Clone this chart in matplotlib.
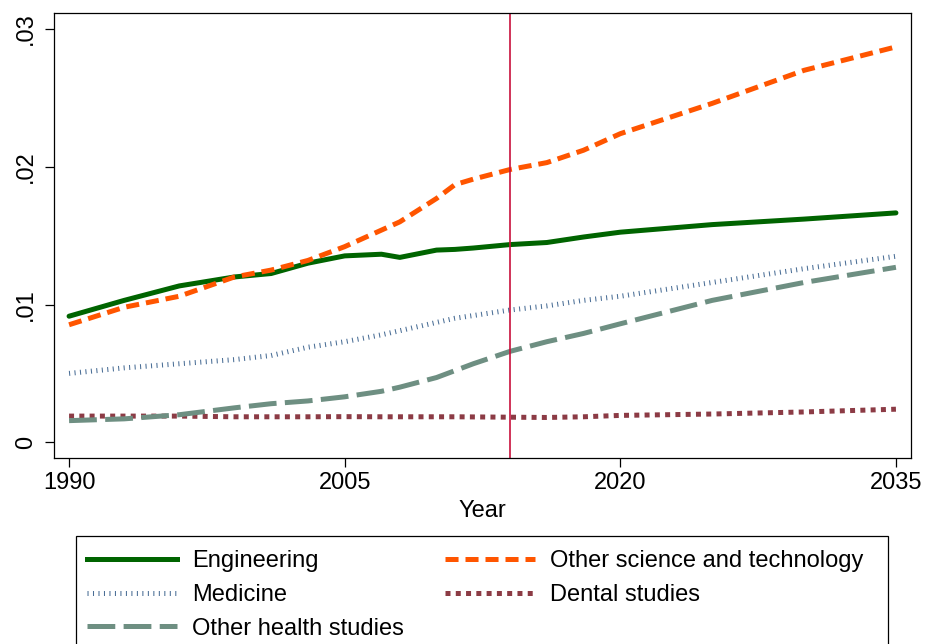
import matplotlib
matplotlib.use("Agg")
import matplotlib.pyplot as plt
from matplotlib.lines import Line2D
from matplotlib.patches import Rectangle

plt.rcParams['font.family'] = ['Liberation Sans', 'DejaVu Sans']
plt.rcParams['lines.scale_dashes'] = False

years = [1990, 1993, 1996, 1999, 2001, 2003, 2005, 2007, 2008, 2010, 2011,
         2012, 2014, 2016, 2018, 2020, 2025, 2030, 2035]

engineering = [0.00915, 0.0103, 0.01135, 0.0120, 0.01225, 0.0130, 0.01353,
               0.01365, 0.01342, 0.01395, 0.01400, 0.0141, 0.01435, 0.0145,
               0.0149, 0.01525, 0.0158, 0.0162, 0.01665]
other_sci_tech = [0.00853, 0.0098, 0.0106, 0.0120, 0.0125, 0.0132, 0.0142,
                  0.0154, 0.0160, 0.0177, 0.0187, 0.0191, 0.0198, 0.0203,
                  0.0212, 0.0224, 0.0246, 0.0270, 0.0287]
medicine = [0.0050, 0.0054, 0.0057, 0.0060, 0.0063, 0.0069, 0.0073, 0.0078,
            0.0081, 0.0087, 0.0090, 0.0092, 0.0096, 0.0099, 0.0103, 0.0106,
            0.0116, 0.0126, 0.0135]
other_health = [0.00157, 0.0017, 0.0020, 0.0025, 0.0028, 0.0030, 0.0033,
                 0.0037, 0.0040, 0.0047, 0.0052, 0.0057, 0.0066, 0.0073,
                 0.0079, 0.0086, 0.0103, 0.0116, 0.0127]
dental = [0.0019, 0.0019, 0.0019, 0.00185, 0.00185, 0.00185, 0.00186,
          0.00185, 0.00185, 0.00185, 0.00185, 0.00184, 0.00182, 0.0018,
          0.00185, 0.00195, 0.00205, 0.0022, 0.0024]

cutoff_year = 2014
x_ticks = [1990, 2005, 2020, 2035]
y_ticks = [0, 0.01, 0.02, 0.03]
y_tick_labels = ['0', '.01', '.02', '.03']

lw = 3.6
styles = {
    'Engineering': dict(color='#006400', linestyle='-'),
    'Other science and technology': dict(color='#ff5500', linestyle=(0, (9.4, 5.0))),
    'Medicine': dict(color='#4a6e96', linestyle=(0, (0.75, 3.2))),
    'Dental studies': dict(color='#8c3b45', linestyle=(0, (3.6, 3.8))),
    'Other health studies': dict(color='#6e8f82', linestyle=(0, (20, 6))),
}
series = {
    'Engineering': engineering,
    'Other science and technology': other_sci_tech,
    'Medicine': medicine,
    'Dental studies': dental,
    'Other health studies': other_health,
}

W, H = 928, 644
fig = plt.figure(figsize=(W / 100, H / 100), dpi=100)
ax = fig.add_axes([54 / W, 1 - 457.7 / H, (911 - 54) / W, (457.7 - 13) / H])

for name, vals in series.items():
    ax.plot(years, vals, lw=lw, solid_capstyle='round', label=name,
            **styles[name])

ax.axvline(cutoff_year, color='#c8103c', lw=1.2)

ax.set_xlim(1989.18, 2035.82)
ax.set_ylim(-0.00112, 0.03116)
ax.set_xticks(x_ticks)
ax.set_xticklabels([str(t) for t in x_ticks])
ax.set_yticks(y_ticks)
ax.set_yticklabels(y_tick_labels, rotation=90, va='center')
ax.tick_params(axis='both', direction='out', length=6.5, width=0.9,
               labelsize=17, color='black')
ax.tick_params(axis='x', pad=4)
ax.tick_params(axis='y', pad=6)
for s in ax.spines.values():
    s.set_linewidth(0.9)
ax.set_xlabel('Year', fontsize=17, labelpad=4)

# legend: two columns, first column filled top to bottom
order = ['Engineering', 'Medicine', 'Other health studies',
         'Other science and technology', 'Dental studies']
handles = [Line2D([], [], lw=lw, **styles[k]) for k in order]
fig.legend(handles, order, loc='upper left',
           bbox_to_anchor=(87 / W, 1 - 550 / H), frameon=False,
           ncol=2, fontsize=17, columnspacing=1.74, handlelength=3.81,
           handletextpad=0.64, borderpad=0, labelspacing=0.5,
           borderaxespad=0)
fig.add_artist(Rectangle((76 / W, -0.1), (888 - 76) / W, (1 - 536 / H) + 0.1,
                         transform=fig.transFigure, fill=False, lw=0.9,
                         ec='black', clip_on=False))

fig.savefig('out.png', dpi=100)
